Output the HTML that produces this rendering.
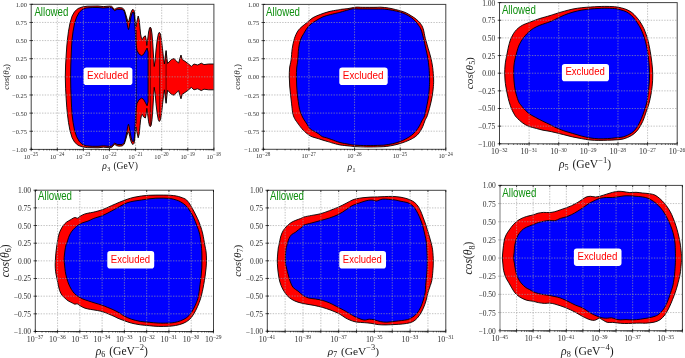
<!DOCTYPE html>
<html><head><meta charset="utf-8"><style>
html,body{margin:0;padding:0;background:#fff;width:685px;height:358px;overflow:hidden}
svg{display:block;transform:translateZ(0);will-change:transform}
.t{font-family:"Liberation Serif",serif;fill:#1a1a1a}
.s{font-family:"Liberation Sans",sans-serif}
.k{font-family:"Liberation Serif",serif;fill:#2e2e2e}
</style></head><body>
<svg width="685" height="358" viewBox="0 0 685 358">
<rect width="685" height="358" fill="#fff"/>

<g id="p1">
<clipPath id="cp1"><rect x="31.2" y="4.3" width="182.70" height="145.10"/></clipPath>
<g clip-path="url(#cp1)">
<path d="M65.3,76.9 L65.6,65.0 L66.2,55.0 L66.8,46.0 L67.5,39.0 L68.5,31.2 L70.0,23.1 L72.1,16.1 L74.6,11.6 L78.1,8.5 L82.1,7.0 L87.2,6.2 L98.0,6.0 L103.4,6.6 L108.0,6.2 L111.4,6.2 L113.0,7.6 L114.7,9.5 L116.4,8.2 L118.9,7.6 L122.2,7.9 L124.3,9.7 L125.6,13.9 L126.8,18.0 L127.8,21.2 L128.3,22.0 L128.9,21.0 L129.8,17.0 L130.8,13.0 L131.9,10.2 L133.0,9.3 L134.1,10.5 L134.8,15.6 L135.3,22.0 L135.9,27.0 L136.6,23.0 L137.3,19.8 L138.2,16.0 L139.2,19.8 L140.0,28.1 L140.6,34.0 L141.5,38.5 L142.3,39.5 L143.5,37.0 L145.4,35.8 L146.2,40.0 L146.8,45.5 L147.6,40.0 L148.6,32.0 L149.5,28.0 L150.3,27.1 L151.2,28.5 L152.0,34.0 L152.8,44.0 L153.5,56.0 L154.2,66.5 L155.2,60.0 L156.0,50.0 L157.2,40.0 L158.3,34.0 L159.3,32.3 L160.5,34.0 L161.5,40.0 L162.5,49.0 L163.5,58.0 L164.4,64.0 L165.2,57.0 L166.1,50.5 L166.8,57.0 L167.6,63.5 L169.0,62.0 L171.4,59.5 L174.0,58.6 L176.5,61.0 L178.6,63.2 L180.0,58.0 L181.0,55.0 L182.2,59.5 L185.0,61.3 L188.6,64.0 L191.3,66.4 L194.0,64.0 L197.7,65.0 L201.3,63.2 L204.0,64.6 L208.6,64.0 L214.5,64.0 L214.5,76.9 L214.5,89.8 L208.6,89.8 L204.0,89.2 L201.3,90.6 L197.7,88.8 L194.0,89.8 L191.3,87.4 L188.6,89.8 L185.0,92.5 L182.2,94.3 L181.0,98.8 L180.0,95.8 L178.6,90.6 L176.5,92.8 L174.0,95.2 L171.4,94.3 L169.0,91.8 L167.6,90.3 L166.8,96.8 L166.1,103.3 L165.2,96.8 L164.4,89.8 L163.5,95.8 L162.5,104.8 L161.5,113.8 L160.5,119.8 L159.3,121.5 L158.3,119.8 L157.2,113.8 L156.0,103.8 L155.2,93.8 L154.2,87.3 L153.5,97.8 L152.8,109.8 L152.0,119.8 L151.2,125.3 L150.3,126.7 L149.5,125.8 L148.6,121.8 L147.6,113.8 L146.8,108.3 L146.2,113.8 L145.4,118.0 L143.5,116.8 L142.3,114.3 L141.5,115.3 L140.6,119.8 L140.0,125.7 L139.2,134.0 L138.2,137.8 L137.3,134.0 L136.6,130.8 L135.9,126.8 L135.3,131.8 L134.8,138.2 L134.1,143.3 L133.0,144.5 L131.9,143.6 L130.8,140.8 L129.8,136.8 L128.9,132.8 L128.3,131.8 L127.8,132.6 L126.8,135.8 L125.6,139.9 L124.3,144.1 L122.2,145.9 L118.9,146.2 L116.4,145.6 L114.7,144.3 L113.0,146.2 L111.4,147.6 L108.0,147.6 L103.4,147.2 L98.0,147.8 L87.2,147.6 L82.1,146.8 L78.1,145.3 L74.6,142.2 L72.1,137.7 L70.0,130.7 L68.5,122.6 L67.5,114.8 L66.8,107.8 L66.2,98.8 L65.6,88.8 Z" fill="#ff0000" stroke="#000" stroke-width="0.9" stroke-linejoin="round"/>
<path d="M70.6,76.9 L70.8,65.0 L71.2,55.0 L71.6,46.0 L72.1,39.0 L73.1,31.2 L74.6,23.1 L76.6,17.1 L79.1,12.6 L82.1,9.5 L86.1,8.0 L92.2,7.5 L98.0,7.5 L103.4,8.0 L108.0,7.6 L111.4,7.6 L114.7,10.7 L117.2,9.3 L122.2,9.3 L124.3,11.4 L125.6,16.0 L126.8,22.0 L127.8,27.5 L128.5,29.6 L129.2,27.0 L130.2,21.0 L131.2,16.0 L132.2,13.0 L133.0,12.0 L133.8,13.0 L134.4,17.0 L134.8,22.0 L135.1,28.0 L135.6,38.0 L136.1,45.0 L137.0,50.5 L139.0,54.0 L141.5,55.7 L143.5,54.5 L145.5,51.0 L147.1,48.0 L148.1,52.0 L148.1,76.9 L148.1,101.8 L147.1,105.8 L145.5,102.8 L143.5,99.3 L141.5,98.1 L139.0,99.8 L137.0,103.3 L136.1,108.8 L135.6,115.8 L135.1,125.8 L134.8,131.8 L134.4,136.8 L133.8,140.8 L133.0,141.8 L132.2,140.8 L131.2,137.8 L130.2,132.8 L129.2,126.8 L128.5,124.2 L127.8,126.3 L126.8,131.8 L125.6,137.8 L124.3,142.4 L122.2,144.5 L117.2,144.5 L114.7,143.1 L111.4,146.2 L108.0,146.2 L103.4,145.8 L98.0,146.3 L92.2,146.3 L86.1,145.8 L82.1,144.3 L79.1,141.2 L76.6,136.7 L74.6,130.7 L73.1,122.6 L72.1,114.8 L71.6,107.8 L71.2,98.8 L70.8,88.8 Z" fill="#0000ff" stroke="#000" stroke-width="0.9" stroke-linejoin="round"/>
<path d="M150.3,28 V125.8 M159.6,36 V117.8 M166.1,51 V102.8 M136.4,30 V123.8" stroke="#000" stroke-width="0.7" fill="none" opacity="0.85"/>
<path d="M57.30,4.3 V149.4 M83.40,4.3 V149.4 M109.50,4.3 V149.4 M135.60,4.3 V149.4 M161.70,4.3 V149.4 M187.80,4.3 V149.4 M31.2,22.44 H213.9 M31.2,40.57 H213.9 M31.2,58.71 H213.9 M31.2,76.85 H213.9 M31.2,94.99 H213.9 M31.2,113.12 H213.9 M31.2,131.26 H213.9" stroke="#a0a0a0" stroke-width="0.8" stroke-dasharray="1.4,1.3" fill="none" opacity="0.8"/>
</g>
<rect x="31.2" y="4.3" width="182.70" height="145.10" fill="none" stroke="#444" stroke-width="1"/>
<path d="M31.20,147.6 V151.20000000000002 M39.06,149.4 V150.4 M43.65,149.4 V150.4 M46.91,149.4 V150.4 M49.44,149.4 V150.4 M51.51,149.4 V150.4 M53.26,149.4 V150.4 M54.77,149.4 V150.4 M56.11,149.4 V150.4 M57.30,147.6 V151.20000000000002 M65.16,149.4 V150.4 M69.75,149.4 V150.4 M73.01,149.4 V150.4 M75.54,149.4 V150.4 M77.61,149.4 V150.4 M79.36,149.4 V150.4 M80.87,149.4 V150.4 M82.21,149.4 V150.4 M83.40,147.6 V151.20000000000002 M91.26,149.4 V150.4 M95.85,149.4 V150.4 M99.11,149.4 V150.4 M101.64,149.4 V150.4 M103.71,149.4 V150.4 M105.46,149.4 V150.4 M106.97,149.4 V150.4 M108.31,149.4 V150.4 M109.50,147.6 V151.20000000000002 M117.36,149.4 V150.4 M121.95,149.4 V150.4 M125.21,149.4 V150.4 M127.74,149.4 V150.4 M129.81,149.4 V150.4 M131.56,149.4 V150.4 M133.07,149.4 V150.4 M134.41,149.4 V150.4 M135.60,147.6 V151.20000000000002 M143.46,149.4 V150.4 M148.05,149.4 V150.4 M151.31,149.4 V150.4 M153.84,149.4 V150.4 M155.91,149.4 V150.4 M157.66,149.4 V150.4 M159.17,149.4 V150.4 M160.51,149.4 V150.4 M161.70,147.6 V151.20000000000002 M169.56,149.4 V150.4 M174.15,149.4 V150.4 M177.41,149.4 V150.4 M179.94,149.4 V150.4 M182.01,149.4 V150.4 M183.76,149.4 V150.4 M185.27,149.4 V150.4 M186.61,149.4 V150.4 M187.80,147.6 V151.20000000000002 M195.66,149.4 V150.4 M200.25,149.4 V150.4 M203.51,149.4 V150.4 M206.04,149.4 V150.4 M208.11,149.4 V150.4 M209.86,149.4 V150.4 M211.37,149.4 V150.4 M212.71,149.4 V150.4 M213.90,147.6 V151.20000000000002 M29.4,4.30 H33.0 M29.4,22.44 H33.0 M29.4,40.57 H33.0 M29.4,58.71 H33.0 M29.4,76.85 H33.0 M29.4,94.99 H33.0 M29.4,113.12 H33.0 M29.4,131.26 H33.0 M29.4,149.40 H33.0" stroke="#000" stroke-width="0.7" fill="none"/>
<text class="k" x="27.00" y="6.91" font-size="6.4" text-anchor="end">1.00</text>
<text class="k" x="27.00" y="25.05" font-size="6.4" text-anchor="end">0.75</text>
<text class="k" x="27.00" y="43.19" font-size="6.4" text-anchor="end">0.50</text>
<text class="k" x="27.00" y="61.32" font-size="6.4" text-anchor="end">0.25</text>
<text class="k" x="27.00" y="79.46" font-size="6.4" text-anchor="end">0.00</text>
<text class="k" x="27.00" y="97.60" font-size="6.4" text-anchor="end"><tspan dy="0.5">−</tspan><tspan dy="-0.5">0.25</tspan></text>
<text class="k" x="27.00" y="115.74" font-size="6.4" text-anchor="end"><tspan dy="0.5">−</tspan><tspan dy="-0.5">0.50</tspan></text>
<text class="k" x="27.00" y="133.87" font-size="6.4" text-anchor="end"><tspan dy="0.5">−</tspan><tspan dy="-0.5">0.75</tspan></text>
<text class="k" x="27.00" y="152.01" font-size="6.4" text-anchor="end"><tspan dy="0.5">−</tspan><tspan dy="-0.5">1.00</tspan></text>
<text class="k" x="31.00" y="158.55" font-size="6.40" text-anchor="middle">10<tspan font-size="5.12" dy="-2.30">−25</tspan></text>
<text class="k" x="57.10" y="158.55" font-size="6.40" text-anchor="middle">10<tspan font-size="5.12" dy="-2.30">−24</tspan></text>
<text class="k" x="83.20" y="158.55" font-size="6.40" text-anchor="middle">10<tspan font-size="5.12" dy="-2.30">−23</tspan></text>
<text class="k" x="109.30" y="158.55" font-size="6.40" text-anchor="middle">10<tspan font-size="5.12" dy="-2.30">−22</tspan></text>
<text class="k" x="135.40" y="158.55" font-size="6.40" text-anchor="middle">10<tspan font-size="5.12" dy="-2.30">−21</tspan></text>
<text class="k" x="161.50" y="158.55" font-size="6.40" text-anchor="middle">10<tspan font-size="5.12" dy="-2.30">−20</tspan></text>
<text class="k" x="187.60" y="158.55" font-size="6.40" text-anchor="middle">10<tspan font-size="5.12" dy="-2.30">−19</tspan></text>
<text class="k" x="213.70" y="158.55" font-size="6.40" text-anchor="middle">10<tspan font-size="5.12" dy="-2.30">−18</tspan></text>
<text class="t" x="102.3" y="168.9" font-size="9.6"><tspan font-style="italic">ρ</tspan><tspan font-size="6.72" dy="1.92">3</tspan><tspan dy="-1.92" dx="0.77"> (GeV</tspan><tspan>)</tspan></text>
<text class="t" transform="translate(8.6,76.85) rotate(-90)" font-size="9.0" text-anchor="middle"><tspan font-style="italic">cos</tspan>(<tspan font-style="italic">θ</tspan><tspan font-size="6.30" dy="1.80">3</tspan><tspan dy="-1.80">)</tspan></text>
<rect x="83.6" y="67.4" width="48.80" height="17.70" rx="2.8" fill="#fff"/>
<text class="s" x="107.70" y="79.20" font-size="10.9" fill="#ff0000" text-anchor="middle" textLength="41.2" lengthAdjust="spacingAndGlyphs">Excluded</text>
<text class="s" x="34.4" y="15.50" font-size="12.1" fill="#0f8f0f" textLength="34" lengthAdjust="spacingAndGlyphs">Allowed</text>
</g>
<g id="p2">
<clipPath id="cp2"><rect x="263.3" y="4.4" width="182.50" height="144.90"/></clipPath>
<g clip-path="url(#cp2)">
<path d="M289.30,77.00 C289.28,74.00 289.30,70.83 289.60,68.00 C289.90,65.17 290.67,63.22 291.10,60.00 C291.53,56.78 291.65,52.27 292.20,48.70 C292.75,45.13 293.47,41.53 294.40,38.60 C295.33,35.67 296.53,33.10 297.80,31.10 C299.07,29.10 300.43,28.05 302.00,26.60 C303.57,25.15 305.35,23.90 307.20,22.40 C309.05,20.90 310.85,18.95 313.10,17.60 C315.35,16.25 318.05,15.30 320.70,14.30 C323.35,13.30 326.22,12.32 329.00,11.60 C331.78,10.88 335.47,10.37 337.40,10.00 C339.33,9.63 338.85,9.63 340.60,9.40 C342.35,9.17 345.72,8.92 347.90,8.60 C350.08,8.28 352.12,7.75 353.70,7.50 C355.28,7.25 355.93,7.13 357.40,7.10 C358.87,7.07 359.40,7.27 362.50,7.30 C365.60,7.33 372.92,7.32 376.00,7.30 C379.08,7.28 378.90,7.08 381.00,7.20 C383.10,7.32 386.22,7.62 388.60,8.00 C390.98,8.38 393.22,9.00 395.30,9.50 C397.38,10.00 399.28,10.43 401.10,11.00 C402.92,11.57 404.52,12.10 406.20,12.90 C407.88,13.70 409.53,14.75 411.20,15.80 C412.87,16.85 414.67,17.93 416.20,19.20 C417.73,20.47 419.23,21.80 420.40,23.40 C421.57,25.00 422.38,26.30 423.20,28.80 C424.02,31.30 424.48,35.17 425.30,38.40 C426.12,41.63 427.17,44.95 428.10,48.20 C429.03,51.45 430.13,54.65 430.90,57.90 C431.67,61.15 432.25,64.18 432.70,67.70 C433.15,71.22 433.48,75.88 433.60,79.00 C433.72,82.12 433.63,83.53 433.40,86.40 C433.17,89.27 432.75,92.95 432.20,96.20 C431.65,99.45 430.92,102.65 430.10,105.90 C429.28,109.15 428.15,113.27 427.30,115.70 C426.45,118.13 425.77,118.67 425.00,120.50 C424.23,122.33 423.63,124.68 422.70,126.70 C421.77,128.72 420.65,130.92 419.40,132.60 C418.15,134.28 416.88,135.55 415.20,136.80 C413.52,138.05 411.53,139.07 409.30,140.10 C407.07,141.13 404.32,142.17 401.80,143.00 C399.28,143.83 396.72,144.53 394.20,145.10 C391.68,145.67 389.07,146.12 386.70,146.40 C384.33,146.68 383.33,146.70 380.00,146.80 C376.67,146.90 370.95,147.03 366.70,147.00 C362.45,146.97 357.42,146.77 354.50,146.60 C351.58,146.43 351.63,146.28 349.20,146.00 C346.77,145.72 342.82,145.43 339.90,144.90 C336.98,144.37 333.70,143.35 331.70,142.80 C329.70,142.25 329.35,142.03 327.90,141.60 C326.45,141.17 324.52,140.67 323.00,140.20 C321.48,139.73 320.30,139.27 318.80,138.80 C317.30,138.33 315.38,137.85 314.00,137.40 C312.62,136.95 311.67,136.73 310.50,136.10 C309.33,135.47 308.17,134.53 307.00,133.60 C305.83,132.67 304.67,131.72 303.50,130.50 C302.33,129.28 300.87,127.38 300.00,126.30 C299.13,125.22 299.20,125.30 298.30,124.00 C297.40,122.70 295.53,120.35 294.60,118.50 C293.67,116.65 293.20,115.33 292.70,112.90 C292.20,110.47 291.95,106.88 291.60,103.90 C291.25,100.92 290.92,97.98 290.60,95.00 C290.28,92.02 289.92,89.00 289.70,86.00 C289.48,83.00 289.32,80.00 289.30,77.00 Z" fill="#ff0000" stroke="#000" stroke-width="0.9" stroke-linejoin="round"/>
<path d="M296.40,77.00 C296.40,74.00 296.47,70.83 296.70,68.00 C296.93,65.17 297.48,63.22 297.80,60.00 C298.12,56.78 298.18,51.98 298.60,48.70 C299.02,45.42 299.45,42.82 300.30,40.30 C301.15,37.78 302.30,35.98 303.70,33.60 C305.10,31.22 306.75,28.10 308.70,26.00 C310.65,23.90 313.02,22.53 315.40,21.00 C317.78,19.47 320.48,17.87 323.00,16.80 C325.52,15.73 328.10,15.25 330.50,14.60 C332.90,13.95 335.65,13.33 337.40,12.90 C339.15,12.47 339.25,12.48 341.00,12.00 C342.75,11.52 346.02,10.52 347.90,10.00 C349.78,9.48 350.48,9.08 352.30,8.90 C354.12,8.72 354.85,8.88 358.80,8.90 C362.75,8.92 371.73,8.97 376.00,9.00 C380.27,9.03 381.60,8.87 384.40,9.10 C387.20,9.33 390.28,9.93 392.80,10.40 C395.32,10.87 397.42,11.28 399.50,11.90 C401.58,12.52 403.35,13.17 405.30,14.10 C407.25,15.03 409.52,16.30 411.20,17.50 C412.88,18.70 414.15,19.97 415.40,21.30 C416.65,22.63 417.73,24.05 418.70,25.50 C419.67,26.95 420.40,27.85 421.20,30.00 C422.00,32.15 422.75,35.37 423.50,38.40 C424.25,41.43 424.98,44.95 425.70,48.20 C426.42,51.45 427.25,54.65 427.80,57.90 C428.35,61.15 428.70,64.18 429.00,67.70 C429.30,71.22 429.53,75.88 429.60,79.00 C429.67,82.12 429.57,83.53 429.40,86.40 C429.23,89.27 429.03,92.95 428.60,96.20 C428.17,99.45 427.47,102.65 426.80,105.90 C426.13,109.15 425.42,113.22 424.60,115.70 C423.78,118.18 422.77,119.10 421.90,120.80 C421.03,122.50 420.38,124.22 419.40,125.90 C418.42,127.58 417.27,129.37 416.00,130.90 C414.73,132.43 413.47,133.78 411.80,135.10 C410.13,136.42 408.08,137.68 406.00,138.80 C403.92,139.92 401.53,140.98 399.30,141.80 C397.07,142.62 394.98,143.17 392.60,143.70 C390.22,144.23 387.10,144.73 385.00,145.00 C382.90,145.27 383.05,145.20 380.00,145.30 C376.95,145.40 370.95,145.63 366.70,145.60 C362.45,145.57 357.42,145.32 354.50,145.10 C351.58,144.88 351.63,144.73 349.20,144.30 C346.77,143.87 342.82,143.28 339.90,142.50 C336.98,141.72 333.93,140.38 331.70,139.60 C329.47,138.82 328.07,138.28 326.50,137.80 C324.93,137.32 323.58,137.33 322.30,136.70 C321.02,136.07 319.95,134.80 318.80,134.00 C317.65,133.20 316.55,132.55 315.40,131.90 C314.25,131.25 312.95,130.80 311.90,130.10 C310.85,129.40 309.92,128.68 309.10,127.70 C308.28,126.72 307.82,125.48 307.00,124.20 C306.18,122.92 305.05,121.42 304.20,120.00 C303.35,118.58 302.67,117.45 301.90,115.70 C301.13,113.95 300.20,111.83 299.60,109.50 C299.00,107.17 298.67,104.12 298.30,101.70 C297.93,99.28 297.67,97.62 297.40,95.00 C297.13,92.38 296.87,89.00 296.70,86.00 C296.53,83.00 296.40,80.00 296.40,77.00 Z" fill="#0000ff" stroke="#000" stroke-width="0.9" stroke-linejoin="round"/>
<path d="M308.93,4.4 V149.3 M354.55,4.4 V149.3 M400.18,4.4 V149.3 M263.3,22.51 H445.8 M263.3,40.62 H445.8 M263.3,58.74 H445.8 M263.3,76.85 H445.8 M263.3,94.96 H445.8 M263.3,113.08 H445.8 M263.3,131.19 H445.8" stroke="#a0a0a0" stroke-width="0.8" stroke-dasharray="1.4,1.3" fill="none" opacity="0.8"/>
</g>
<rect x="263.3" y="4.4" width="182.50" height="144.90" fill="none" stroke="#444" stroke-width="1"/>
<path d="M263.30,147.5 V151.10000000000002 M277.03,149.3 V150.3 M285.07,149.3 V150.3 M290.77,149.3 V150.3 M295.19,149.3 V150.3 M298.80,149.3 V150.3 M301.86,149.3 V150.3 M304.50,149.3 V150.3 M306.84,149.3 V150.3 M308.93,147.5 V151.10000000000002 M322.66,149.3 V150.3 M330.69,149.3 V150.3 M336.39,149.3 V150.3 M340.82,149.3 V150.3 M344.43,149.3 V150.3 M347.48,149.3 V150.3 M350.13,149.3 V150.3 M352.46,149.3 V150.3 M354.55,147.5 V151.10000000000002 M368.28,149.3 V150.3 M376.32,149.3 V150.3 M382.02,149.3 V150.3 M386.44,149.3 V150.3 M390.05,149.3 V150.3 M393.11,149.3 V150.3 M395.75,149.3 V150.3 M398.09,149.3 V150.3 M400.18,147.5 V151.10000000000002 M413.91,149.3 V150.3 M421.94,149.3 V150.3 M427.64,149.3 V150.3 M432.07,149.3 V150.3 M435.68,149.3 V150.3 M438.73,149.3 V150.3 M441.38,149.3 V150.3 M443.71,149.3 V150.3 M445.80,147.5 V151.10000000000002 M261.5,4.40 H265.1 M261.5,22.51 H265.1 M261.5,40.62 H265.1 M261.5,58.74 H265.1 M261.5,76.85 H265.1 M261.5,94.96 H265.1 M261.5,113.08 H265.1 M261.5,131.19 H265.1 M261.5,149.30 H265.1" stroke="#000" stroke-width="0.7" fill="none"/>
<text class="k" x="259.10" y="7.01" font-size="6.4" text-anchor="end">1.00</text>
<text class="k" x="259.10" y="25.12" font-size="6.4" text-anchor="end">0.75</text>
<text class="k" x="259.10" y="43.24" font-size="6.4" text-anchor="end">0.50</text>
<text class="k" x="259.10" y="61.35" font-size="6.4" text-anchor="end">0.25</text>
<text class="k" x="259.10" y="79.46" font-size="6.4" text-anchor="end">0.00</text>
<text class="k" x="259.10" y="97.57" font-size="6.4" text-anchor="end"><tspan dy="0.5">−</tspan><tspan dy="-0.5">0.25</tspan></text>
<text class="k" x="259.10" y="115.69" font-size="6.4" text-anchor="end"><tspan dy="0.5">−</tspan><tspan dy="-0.5">0.50</tspan></text>
<text class="k" x="259.10" y="133.80" font-size="6.4" text-anchor="end"><tspan dy="0.5">−</tspan><tspan dy="-0.5">0.75</tspan></text>
<text class="k" x="259.10" y="151.91" font-size="6.4" text-anchor="end"><tspan dy="0.5">−</tspan><tspan dy="-0.5">1.00</tspan></text>
<text class="k" x="263.10" y="158.45" font-size="6.40" text-anchor="middle">10<tspan font-size="5.12" dy="-2.30">−28</tspan></text>
<text class="k" x="308.73" y="158.45" font-size="6.40" text-anchor="middle">10<tspan font-size="5.12" dy="-2.30">−27</tspan></text>
<text class="k" x="354.35" y="158.45" font-size="6.40" text-anchor="middle">10<tspan font-size="5.12" dy="-2.30">−26</tspan></text>
<text class="k" x="399.98" y="158.45" font-size="6.40" text-anchor="middle">10<tspan font-size="5.12" dy="-2.30">−25</tspan></text>
<text class="k" x="445.60" y="158.45" font-size="6.40" text-anchor="middle">10<tspan font-size="5.12" dy="-2.30">−24</tspan></text>
<text class="t" x="347.6" y="170.0" font-size="9.6"><tspan font-style="italic">ρ</tspan><tspan font-size="6.72" dy="1.92">1</tspan></text>
<text class="t" transform="translate(240.2,76.85) rotate(-90)" font-size="9.0" text-anchor="middle"><tspan font-style="italic">cos</tspan>(<tspan font-style="italic">θ</tspan><tspan font-size="6.30" dy="1.80">1</tspan><tspan dy="-1.80">)</tspan></text>
<rect x="339.3" y="67.6" width="48.40" height="17.50" rx="2.8" fill="#fff"/>
<text class="s" x="363.20" y="79.20" font-size="10.9" fill="#ff0000" text-anchor="middle" textLength="40.8" lengthAdjust="spacingAndGlyphs">Excluded</text>
<text class="s" x="266.0" y="15.60" font-size="12.1" fill="#0f8f0f" textLength="34" lengthAdjust="spacingAndGlyphs">Allowed</text>
</g>
<g id="p3">
<clipPath id="cp3"><rect x="499.5" y="2.6" width="177.70" height="141.20"/></clipPath>
<g clip-path="url(#cp3)">
<path d="M504.70,73.00 C504.70,70.67 504.82,68.17 505.00,66.00 C505.18,63.83 505.50,61.83 505.80,60.00 C506.10,58.17 506.37,57.17 506.80,55.00 C507.23,52.83 507.98,48.92 508.40,47.00 C508.82,45.08 508.87,44.95 509.30,43.50 C509.73,42.05 510.32,39.93 511.00,38.30 C511.68,36.67 512.48,35.13 513.40,33.70 C514.32,32.27 515.37,30.88 516.50,29.70 C517.63,28.52 518.97,27.47 520.20,26.60 C521.43,25.73 522.68,25.08 523.90,24.50 C525.12,23.92 525.92,23.72 527.50,23.10 C529.08,22.48 531.45,21.53 533.40,20.80 C535.35,20.07 537.25,19.33 539.20,18.70 C541.15,18.07 543.30,17.52 545.10,17.00 C546.90,16.48 548.27,16.13 550.00,15.60 C551.73,15.07 553.12,14.53 555.50,13.80 C557.88,13.07 561.38,12.00 564.30,11.20 C567.22,10.40 570.08,9.58 573.00,9.00 C575.92,8.42 578.88,8.03 581.80,7.70 C584.72,7.37 587.80,7.18 590.50,7.00 C593.20,6.82 595.62,6.70 598.00,6.60 C600.38,6.50 602.05,6.38 604.80,6.40 C607.55,6.42 611.73,6.45 614.50,6.70 C617.27,6.95 619.28,7.38 621.40,7.90 C623.52,8.42 625.42,9.00 627.20,9.80 C628.98,10.60 630.63,11.57 632.10,12.70 C633.57,13.83 634.70,15.13 636.00,16.60 C637.30,18.07 638.60,19.53 639.90,21.50 C641.20,23.47 642.73,26.15 643.80,28.40 C644.87,30.65 645.55,32.78 646.30,35.00 C647.05,37.22 647.53,38.30 648.30,41.70 C649.07,45.10 650.20,50.83 650.90,55.40 C651.60,59.97 652.22,64.87 652.50,69.10 C652.78,73.33 652.80,76.88 652.60,80.80 C652.40,84.72 651.90,88.83 651.30,92.60 C650.70,96.37 649.85,100.20 649.00,103.40 C648.15,106.60 647.25,108.78 646.20,111.80 C645.15,114.82 644.10,118.48 642.70,121.50 C641.30,124.52 639.65,127.57 637.80,129.90 C635.95,132.23 634.03,133.98 631.60,135.50 C629.17,137.02 625.97,138.27 623.20,139.00 C620.43,139.73 617.62,139.70 615.00,139.90 C612.38,140.10 610.20,140.12 607.50,140.20 C604.80,140.28 601.72,140.43 598.80,140.40 C595.88,140.37 592.92,140.30 590.00,140.00 C587.08,139.70 584.22,139.12 581.30,138.60 C578.38,138.08 575.42,137.55 572.50,136.90 C569.58,136.25 566.72,135.43 563.80,134.70 C560.88,133.97 557.47,133.08 555.00,132.50 C552.53,131.92 551.00,131.58 549.00,131.20 C547.00,130.82 545.08,130.65 543.00,130.20 C540.92,129.75 538.88,129.15 536.50,128.50 C534.12,127.85 531.02,127.23 528.70,126.30 C526.38,125.37 524.65,124.40 522.60,122.90 C520.55,121.40 517.90,118.95 516.40,117.30 C514.90,115.65 514.43,114.48 513.60,113.00 C512.77,111.52 512.15,110.28 511.40,108.40 C510.65,106.52 509.75,103.93 509.10,101.70 C508.45,99.47 508.03,97.45 507.50,95.00 C506.97,92.55 506.32,89.50 505.90,87.00 C505.48,84.50 505.20,82.33 505.00,80.00 C504.80,77.67 504.70,75.33 504.70,73.00 Z" fill="#ff0000" stroke="#000" stroke-width="0.9" stroke-linejoin="round"/>
<path d="M513.70,73.00 C513.68,70.50 513.72,68.17 513.90,66.00 C514.08,63.83 514.43,61.83 514.80,60.00 C515.17,58.17 515.60,56.92 516.10,55.00 C516.60,53.08 517.22,50.33 517.80,48.50 C518.38,46.67 518.90,45.45 519.60,44.00 C520.30,42.55 521.08,41.17 522.00,39.80 C522.92,38.43 523.98,37.10 525.10,35.80 C526.22,34.50 527.32,33.23 528.70,32.00 C530.08,30.77 531.65,29.48 533.40,28.40 C535.15,27.32 537.25,26.33 539.20,25.50 C541.15,24.67 543.30,24.03 545.10,23.40 C546.90,22.77 548.27,22.40 550.00,21.70 C551.73,21.00 553.12,20.30 555.50,19.20 C557.88,18.10 561.38,16.28 564.30,15.10 C567.22,13.92 570.08,12.93 573.00,12.10 C575.92,11.27 578.88,10.62 581.80,10.10 C584.72,9.58 587.80,9.27 590.50,9.00 C593.20,8.73 595.62,8.63 598.00,8.50 C600.38,8.37 602.05,8.18 604.80,8.20 C607.55,8.22 611.90,8.33 614.50,8.60 C617.10,8.87 618.43,9.27 620.40,9.80 C622.37,10.33 624.52,10.90 626.30,11.80 C628.08,12.70 629.65,13.90 631.10,15.20 C632.55,16.50 633.70,17.90 635.00,19.60 C636.30,21.30 637.75,23.45 638.90,25.40 C640.05,27.35 640.80,28.58 641.90,31.30 C643.00,34.02 644.45,37.68 645.50,41.70 C646.55,45.72 647.55,50.83 648.20,55.40 C648.85,59.97 649.20,64.87 649.40,69.10 C649.60,73.33 649.58,76.88 649.40,80.80 C649.22,84.72 648.72,89.07 648.30,92.60 C647.88,96.13 647.55,99.03 646.90,102.00 C646.25,104.97 645.33,107.62 644.40,110.40 C643.47,113.18 642.52,115.92 641.30,118.70 C640.08,121.48 638.72,124.72 637.10,127.10 C635.48,129.48 633.92,131.37 631.60,133.00 C629.28,134.63 625.97,136.08 623.20,136.90 C620.43,137.72 617.62,137.62 615.00,137.90 C612.38,138.18 610.20,138.45 607.50,138.60 C604.80,138.75 601.72,138.92 598.80,138.80 C595.88,138.68 592.92,138.37 590.00,137.90 C587.08,137.43 584.22,136.75 581.30,136.00 C578.38,135.25 575.42,134.27 572.50,133.40 C569.58,132.53 566.72,131.83 563.80,130.80 C560.88,129.77 557.30,128.23 555.00,127.20 C552.70,126.17 552.00,125.58 550.00,124.60 C548.00,123.62 545.43,122.52 543.00,121.30 C540.57,120.08 537.78,118.62 535.40,117.30 C533.02,115.98 530.65,114.88 528.70,113.40 C526.75,111.92 525.02,109.80 523.70,108.40 C522.38,107.00 521.65,106.12 520.80,105.00 C519.95,103.88 519.33,103.37 518.60,101.70 C517.87,100.03 517.00,97.12 516.40,95.00 C515.80,92.88 515.40,91.33 515.00,89.00 C514.60,86.67 514.22,83.67 514.00,81.00 C513.78,78.33 513.72,75.50 513.70,73.00 Z" fill="#0000ff" stroke="#000" stroke-width="0.9" stroke-linejoin="round"/>
<path d="M529.12,2.6 V143.8 M558.73,2.6 V143.8 M588.35,2.6 V143.8 M617.97,2.6 V143.8 M647.58,2.6 V143.8 M499.5,20.25 H677.2 M499.5,37.90 H677.2 M499.5,55.55 H677.2 M499.5,73.20 H677.2 M499.5,90.85 H677.2 M499.5,108.50 H677.2 M499.5,126.15 H677.2" stroke="#a0a0a0" stroke-width="0.8" stroke-dasharray="1.4,1.3" fill="none" opacity="0.8"/>
</g>
<rect x="499.5" y="2.6" width="177.70" height="141.20" fill="none" stroke="#444" stroke-width="1"/>
<path d="M499.50,142.0 V145.60000000000002 M508.42,143.8 V144.8 M513.63,143.8 V144.8 M517.33,143.8 V144.8 M520.20,143.8 V144.8 M522.55,143.8 V144.8 M524.53,143.8 V144.8 M526.25,143.8 V144.8 M527.76,143.8 V144.8 M529.12,142.0 V145.60000000000002 M538.03,143.8 V144.8 M543.25,143.8 V144.8 M546.95,143.8 V144.8 M549.82,143.8 V144.8 M552.16,143.8 V144.8 M554.15,143.8 V144.8 M555.86,143.8 V144.8 M557.38,143.8 V144.8 M558.73,142.0 V145.60000000000002 M567.65,143.8 V144.8 M572.86,143.8 V144.8 M576.56,143.8 V144.8 M579.43,143.8 V144.8 M581.78,143.8 V144.8 M583.76,143.8 V144.8 M585.48,143.8 V144.8 M586.99,143.8 V144.8 M588.35,142.0 V145.60000000000002 M597.27,143.8 V144.8 M602.48,143.8 V144.8 M606.18,143.8 V144.8 M609.05,143.8 V144.8 M611.40,143.8 V144.8 M613.38,143.8 V144.8 M615.10,143.8 V144.8 M616.61,143.8 V144.8 M617.97,142.0 V145.60000000000002 M626.88,143.8 V144.8 M632.10,143.8 V144.8 M635.80,143.8 V144.8 M638.67,143.8 V144.8 M641.01,143.8 V144.8 M643.00,143.8 V144.8 M644.71,143.8 V144.8 M646.23,143.8 V144.8 M647.58,142.0 V145.60000000000002 M656.50,143.8 V144.8 M661.71,143.8 V144.8 M665.41,143.8 V144.8 M668.28,143.8 V144.8 M670.63,143.8 V144.8 M672.61,143.8 V144.8 M674.33,143.8 V144.8 M675.84,143.8 V144.8 M677.20,142.0 V145.60000000000002 M497.7,2.60 H501.3 M497.7,20.25 H501.3 M497.7,37.90 H501.3 M497.7,55.55 H501.3 M497.7,73.20 H501.3 M497.7,90.85 H501.3 M497.7,108.50 H501.3 M497.7,126.15 H501.3 M497.7,143.80 H501.3" stroke="#000" stroke-width="0.7" fill="none"/>
<text class="k" x="495.30" y="5.58" font-size="7.5" text-anchor="end">1.00</text>
<text class="k" x="495.30" y="23.23" font-size="7.5" text-anchor="end">0.75</text>
<text class="k" x="495.30" y="40.88" font-size="7.5" text-anchor="end">0.50</text>
<text class="k" x="495.30" y="58.53" font-size="7.5" text-anchor="end">0.25</text>
<text class="k" x="495.30" y="76.17" font-size="7.5" text-anchor="end">0.00</text>
<text class="k" x="495.30" y="93.83" font-size="7.5" text-anchor="end"><tspan dy="0.5">−</tspan><tspan dy="-0.5">0.25</tspan></text>
<text class="k" x="495.30" y="111.47" font-size="7.5" text-anchor="end"><tspan dy="0.5">−</tspan><tspan dy="-0.5">0.50</tspan></text>
<text class="k" x="495.30" y="129.12" font-size="7.5" text-anchor="end"><tspan dy="0.5">−</tspan><tspan dy="-0.5">0.75</tspan></text>
<text class="k" x="495.30" y="146.78" font-size="7.5" text-anchor="end"><tspan dy="0.5">−</tspan><tspan dy="-0.5">1.00</tspan></text>
<text class="k" x="499.30" y="154.40" font-size="7.95" text-anchor="middle">10<tspan font-size="5.55" dy="-2.70">−32</tspan></text>
<text class="k" x="528.92" y="154.40" font-size="7.95" text-anchor="middle">10<tspan font-size="5.55" dy="-2.70">−31</tspan></text>
<text class="k" x="558.53" y="154.40" font-size="7.95" text-anchor="middle">10<tspan font-size="5.55" dy="-2.70">−30</tspan></text>
<text class="k" x="588.15" y="154.40" font-size="7.95" text-anchor="middle">10<tspan font-size="5.55" dy="-2.70">−29</tspan></text>
<text class="k" x="617.77" y="154.40" font-size="7.95" text-anchor="middle">10<tspan font-size="5.55" dy="-2.70">−28</tspan></text>
<text class="k" x="647.38" y="154.40" font-size="7.95" text-anchor="middle">10<tspan font-size="5.55" dy="-2.70">−27</tspan></text>
<text class="k" x="677.00" y="154.40" font-size="7.95" text-anchor="middle">10<tspan font-size="5.55" dy="-2.70">−26</tspan></text>
<text class="t" x="559.0" y="167.5" font-size="11.6"><tspan font-style="italic">ρ</tspan><tspan font-size="8.12" dy="2.32">5</tspan><tspan dy="-2.32" dx="0.93"> (GeV</tspan><tspan font-size="8.58" dy="-4.41">−1</tspan><tspan dy="4.41">)</tspan></text>
<text class="t" transform="translate(472.5,73.20) rotate(-90)" font-size="11.3" text-anchor="middle"><tspan font-style="italic">cos</tspan>(<tspan font-style="italic">θ</tspan><tspan font-size="7.91" dy="2.26">5</tspan><tspan dy="-2.26">)</tspan></text>
<rect x="561.9" y="64.1" width="47.10" height="17.10" rx="2.8" fill="#fff"/>
<text class="s" x="585.15" y="75.30" font-size="10.9" fill="#ff0000" text-anchor="middle" textLength="39.5" lengthAdjust="spacingAndGlyphs">Excluded</text>
<text class="s" x="501.9" y="13.50" font-size="12.1" fill="#0f8f0f" textLength="34" lengthAdjust="spacingAndGlyphs">Allowed</text>
</g>
<g id="p4">
<clipPath id="cp4"><rect x="35.3" y="190.2" width="178.20" height="141.30"/></clipPath>
<g clip-path="url(#cp4)">
<path d="M55.40,260.00 C55.50,258.15 55.62,255.90 55.80,253.90 C55.98,251.90 56.22,250.12 56.50,248.00 C56.78,245.88 57.08,243.52 57.50,241.20 C57.92,238.88 58.40,236.12 59.00,234.10 C59.60,232.08 60.33,230.60 61.10,229.10 C61.87,227.60 62.68,226.27 63.60,225.10 C64.52,223.93 65.52,222.95 66.60,222.10 C67.68,221.25 69.02,220.65 70.10,220.00 C71.18,219.35 72.27,218.62 73.10,218.20 C73.93,217.78 74.33,217.50 75.10,217.50 C75.87,217.50 76.85,218.42 77.70,218.20 C78.55,217.98 79.12,216.87 80.20,216.20 C81.28,215.53 82.90,214.70 84.20,214.20 C85.50,213.70 86.40,213.55 88.00,213.20 C89.60,212.85 91.37,212.70 93.80,212.10 C96.23,211.50 99.67,210.67 102.60,209.60 C105.53,208.53 108.62,206.92 111.40,205.70 C114.18,204.48 116.68,203.37 119.30,202.30 C121.92,201.23 124.65,200.13 127.10,199.30 C129.55,198.47 131.63,197.85 134.00,197.30 C136.37,196.75 138.87,196.33 141.30,196.00 C143.73,195.67 146.17,195.45 148.60,195.30 C151.03,195.15 153.47,195.13 155.90,195.10 C158.33,195.07 160.77,195.07 163.20,195.10 C165.63,195.13 168.32,195.15 170.50,195.30 C172.68,195.45 174.55,195.67 176.30,196.00 C178.05,196.33 179.30,196.65 181.00,197.30 C182.70,197.95 184.88,198.53 186.50,199.90 C188.12,201.27 189.42,203.52 190.70,205.50 C191.98,207.48 193.05,209.60 194.20,211.80 C195.35,214.00 196.57,216.38 197.60,218.70 C198.63,221.02 199.53,223.13 200.40,225.70 C201.27,228.27 202.07,230.88 202.80,234.10 C203.53,237.32 204.25,242.02 204.80,245.00 C205.35,247.98 205.82,249.50 206.10,252.00 C206.38,254.50 206.50,257.35 206.50,260.00 C206.50,262.65 206.33,265.18 206.10,267.90 C205.87,270.62 205.50,273.50 205.10,276.30 C204.70,279.10 204.15,282.20 203.70,284.70 C203.25,287.20 202.93,288.95 202.40,291.30 C201.87,293.65 201.30,296.28 200.50,298.80 C199.70,301.32 198.72,303.88 197.60,306.40 C196.48,308.92 195.17,311.70 193.80,313.90 C192.43,316.10 191.18,318.02 189.40,319.60 C187.62,321.18 185.42,322.42 183.10,323.40 C180.78,324.38 178.02,325.02 175.50,325.50 C172.98,325.98 170.88,326.15 168.00,326.30 C165.12,326.45 161.32,326.50 158.20,326.40 C155.08,326.30 152.28,325.97 149.30,325.70 C146.32,325.43 143.28,325.23 140.30,324.80 C137.32,324.37 134.07,323.78 131.40,323.10 C128.73,322.42 126.53,321.50 124.30,320.70 C122.07,319.90 119.72,319.03 118.00,318.30 C116.28,317.57 115.58,317.02 114.00,316.30 C112.42,315.58 110.35,314.75 108.50,314.00 C106.65,313.25 104.77,312.38 102.90,311.80 C101.03,311.22 99.35,310.90 97.30,310.50 C95.25,310.10 92.65,309.78 90.60,309.40 C88.55,309.02 86.68,308.77 85.00,308.20 C83.32,307.63 81.80,306.73 80.50,306.00 C79.20,305.27 78.13,304.10 77.20,303.80 C76.27,303.50 75.70,304.33 74.90,304.20 C74.10,304.07 73.53,303.57 72.40,303.00 C71.27,302.43 69.37,301.63 68.10,300.80 C66.83,299.97 65.82,298.93 64.80,298.00 C63.78,297.07 62.85,296.42 62.00,295.20 C61.15,293.98 60.32,292.38 59.70,290.70 C59.08,289.02 58.77,287.15 58.30,285.10 C57.83,283.05 57.35,280.63 56.90,278.40 C56.45,276.17 55.88,273.93 55.60,271.70 C55.32,269.47 55.23,266.95 55.20,265.00 C55.17,263.05 55.30,261.85 55.40,260.00 Z" fill="#ff0000" stroke="#000" stroke-width="0.9" stroke-linejoin="round"/>
<path d="M64.10,260.00 C64.07,258.33 64.25,256.67 64.40,255.00 C64.55,253.33 64.73,251.67 65.00,250.00 C65.27,248.33 65.65,246.30 66.00,245.00 C66.35,243.70 66.58,243.68 67.10,242.20 C67.62,240.72 68.35,237.87 69.10,236.10 C69.85,234.33 70.68,232.93 71.60,231.60 C72.52,230.27 73.50,229.18 74.60,228.10 C75.70,227.02 76.93,225.97 78.20,225.10 C79.47,224.23 80.57,223.57 82.20,222.90 C83.83,222.23 86.07,221.85 88.00,221.10 C89.93,220.35 91.37,219.33 93.80,218.40 C96.23,217.47 99.67,216.72 102.60,215.50 C105.53,214.28 108.62,212.57 111.40,211.10 C114.18,209.63 116.68,208.08 119.30,206.70 C121.92,205.32 124.65,203.73 127.10,202.80 C129.55,201.87 131.63,201.57 134.00,201.10 C136.37,200.63 138.87,200.37 141.30,200.00 C143.73,199.63 146.17,199.20 148.60,198.90 C151.03,198.60 153.47,198.33 155.90,198.20 C158.33,198.07 160.77,198.03 163.20,198.10 C165.63,198.17 168.32,198.28 170.50,198.60 C172.68,198.92 174.60,199.45 176.30,200.00 C178.00,200.55 179.12,200.98 180.70,201.90 C182.28,202.82 184.25,203.97 185.80,205.50 C187.35,207.03 188.72,209.13 190.00,211.10 C191.28,213.07 192.35,214.87 193.50,217.30 C194.65,219.73 195.87,222.90 196.90,225.70 C197.93,228.50 198.98,230.88 199.70,234.10 C200.42,237.32 200.85,242.02 201.20,245.00 C201.55,247.98 201.68,249.50 201.80,252.00 C201.92,254.50 201.90,257.35 201.90,260.00 C201.90,262.65 201.93,265.18 201.80,267.90 C201.67,270.62 201.40,273.50 201.10,276.30 C200.80,279.10 200.32,282.20 200.00,284.70 C199.68,287.20 199.57,288.95 199.20,291.30 C198.83,293.65 198.50,296.38 197.80,298.80 C197.10,301.22 196.08,303.48 195.00,305.80 C193.92,308.12 192.65,310.75 191.30,312.70 C189.95,314.65 188.68,316.15 186.90,317.50 C185.12,318.85 182.70,319.97 180.60,320.80 C178.50,321.63 176.40,322.12 174.30,322.50 C172.20,322.88 170.68,323.00 168.00,323.10 C165.32,323.20 161.32,323.23 158.20,323.10 C155.08,322.97 152.28,322.58 149.30,322.30 C146.32,322.02 143.28,321.92 140.30,321.40 C137.32,320.88 134.07,320.08 131.40,319.20 C128.73,318.32 126.37,317.18 124.30,316.10 C122.23,315.02 120.90,313.78 119.00,312.70 C117.10,311.62 114.85,310.50 112.90,309.60 C110.95,308.70 109.15,308.05 107.30,307.30 C105.45,306.55 103.83,305.80 101.80,305.10 C99.77,304.40 97.35,303.80 95.10,303.10 C92.85,302.40 90.35,301.58 88.30,300.90 C86.25,300.22 84.48,299.73 82.80,299.00 C81.12,298.27 79.57,297.38 78.20,296.50 C76.83,295.62 75.72,294.85 74.60,293.70 C73.48,292.55 72.48,291.22 71.50,289.60 C70.52,287.98 69.48,285.87 68.70,284.00 C67.92,282.13 67.37,280.45 66.80,278.40 C66.23,276.35 65.67,273.93 65.30,271.70 C64.93,269.47 64.80,266.95 64.60,265.00 C64.40,263.05 64.13,261.67 64.10,260.00 Z" fill="#0000ff" stroke="#000" stroke-width="0.9" stroke-linejoin="round"/>
<path d="M57.57,190.2 V331.5 M79.85,190.2 V331.5 M102.12,190.2 V331.5 M124.40,190.2 V331.5 M146.68,190.2 V331.5 M168.95,190.2 V331.5 M191.22,190.2 V331.5 M35.3,207.86 H213.5 M35.3,225.52 H213.5 M35.3,243.19 H213.5 M35.3,260.85 H213.5 M35.3,278.51 H213.5 M35.3,296.18 H213.5 M35.3,313.84 H213.5" stroke="#a0a0a0" stroke-width="0.8" stroke-dasharray="1.4,1.3" fill="none" opacity="0.8"/>
</g>
<rect x="35.3" y="190.2" width="178.20" height="141.30" fill="none" stroke="#444" stroke-width="1"/>
<path d="M35.30,329.7 V333.3 M35.30,190.2 V192.0 M42.01,331.5 V332.5 M45.93,331.5 V332.5 M48.71,331.5 V332.5 M50.87,331.5 V332.5 M52.63,331.5 V332.5 M54.12,331.5 V332.5 M55.42,331.5 V332.5 M56.56,331.5 V332.5 M57.57,329.7 V333.3 M57.57,190.2 V192.0 M64.28,331.5 V332.5 M68.20,331.5 V332.5 M70.99,331.5 V332.5 M73.14,331.5 V332.5 M74.91,331.5 V332.5 M76.40,331.5 V332.5 M77.69,331.5 V332.5 M78.83,331.5 V332.5 M79.85,329.7 V333.3 M79.85,190.2 V192.0 M86.56,331.5 V332.5 M90.48,331.5 V332.5 M93.26,331.5 V332.5 M95.42,331.5 V332.5 M97.18,331.5 V332.5 M98.67,331.5 V332.5 M99.97,331.5 V332.5 M101.11,331.5 V332.5 M102.12,329.7 V333.3 M102.12,190.2 V192.0 M108.83,331.5 V332.5 M112.75,331.5 V332.5 M115.54,331.5 V332.5 M117.69,331.5 V332.5 M119.46,331.5 V332.5 M120.95,331.5 V332.5 M122.24,331.5 V332.5 M123.38,331.5 V332.5 M124.40,329.7 V333.3 M124.40,190.2 V192.0 M131.11,331.5 V332.5 M135.03,331.5 V332.5 M137.81,331.5 V332.5 M139.97,331.5 V332.5 M141.73,331.5 V332.5 M143.22,331.5 V332.5 M144.52,331.5 V332.5 M145.66,331.5 V332.5 M146.68,329.7 V333.3 M146.68,190.2 V192.0 M153.38,331.5 V332.5 M157.30,331.5 V332.5 M160.09,331.5 V332.5 M162.24,331.5 V332.5 M164.01,331.5 V332.5 M165.50,331.5 V332.5 M166.79,331.5 V332.5 M167.93,331.5 V332.5 M168.95,329.7 V333.3 M168.95,190.2 V192.0 M175.66,331.5 V332.5 M179.58,331.5 V332.5 M182.36,331.5 V332.5 M184.52,331.5 V332.5 M186.28,331.5 V332.5 M187.77,331.5 V332.5 M189.07,331.5 V332.5 M190.21,331.5 V332.5 M191.22,329.7 V333.3 M191.22,190.2 V192.0 M197.93,331.5 V332.5 M201.85,331.5 V332.5 M204.64,331.5 V332.5 M206.79,331.5 V332.5 M208.56,331.5 V332.5 M210.05,331.5 V332.5 M211.34,331.5 V332.5 M212.48,331.5 V332.5 M213.50,329.7 V333.3 M213.50,190.2 V192.0 M33.5,190.20 H37.099999999999994 M33.5,207.86 H37.099999999999994 M33.5,225.52 H37.099999999999994 M33.5,243.19 H37.099999999999994 M33.5,260.85 H37.099999999999994 M33.5,278.51 H37.099999999999994 M33.5,296.18 H37.099999999999994 M33.5,313.84 H37.099999999999994 M33.5,331.50 H37.099999999999994" stroke="#000" stroke-width="0.7" fill="none"/>
<text class="k" x="31.10" y="193.17" font-size="7.5" text-anchor="end">1.00</text>
<text class="k" x="31.10" y="210.84" font-size="7.5" text-anchor="end">0.75</text>
<text class="k" x="31.10" y="228.50" font-size="7.5" text-anchor="end">0.50</text>
<text class="k" x="31.10" y="246.16" font-size="7.5" text-anchor="end">0.25</text>
<text class="k" x="31.10" y="263.83" font-size="7.5" text-anchor="end">0.00</text>
<text class="k" x="31.10" y="281.49" font-size="7.5" text-anchor="end"><tspan dy="0.5">−</tspan><tspan dy="-0.5">0.25</tspan></text>
<text class="k" x="31.10" y="299.15" font-size="7.5" text-anchor="end"><tspan dy="0.5">−</tspan><tspan dy="-0.5">0.50</tspan></text>
<text class="k" x="31.10" y="316.81" font-size="7.5" text-anchor="end"><tspan dy="0.5">−</tspan><tspan dy="-0.5">0.75</tspan></text>
<text class="k" x="31.10" y="334.48" font-size="7.5" text-anchor="end"><tspan dy="0.5">−</tspan><tspan dy="-0.5">1.00</tspan></text>
<text class="k" x="35.10" y="342.10" font-size="7.95" text-anchor="middle">10<tspan font-size="5.55" dy="-2.70">−37</tspan></text>
<text class="k" x="57.37" y="342.10" font-size="7.95" text-anchor="middle">10<tspan font-size="5.55" dy="-2.70">−36</tspan></text>
<text class="k" x="79.65" y="342.10" font-size="7.95" text-anchor="middle">10<tspan font-size="5.55" dy="-2.70">−35</tspan></text>
<text class="k" x="101.92" y="342.10" font-size="7.95" text-anchor="middle">10<tspan font-size="5.55" dy="-2.70">−34</tspan></text>
<text class="k" x="124.20" y="342.10" font-size="7.95" text-anchor="middle">10<tspan font-size="5.55" dy="-2.70">−33</tspan></text>
<text class="k" x="146.48" y="342.10" font-size="7.95" text-anchor="middle">10<tspan font-size="5.55" dy="-2.70">−32</tspan></text>
<text class="k" x="168.75" y="342.10" font-size="7.95" text-anchor="middle">10<tspan font-size="5.55" dy="-2.70">−31</tspan></text>
<text class="k" x="191.02" y="342.10" font-size="7.95" text-anchor="middle">10<tspan font-size="5.55" dy="-2.70">−30</tspan></text>
<text class="k" x="213.30" y="342.10" font-size="7.95" text-anchor="middle">10<tspan font-size="5.55" dy="-2.70">−29</tspan></text>
<text class="t" x="95.7" y="354.8" font-size="11.6"><tspan font-style="italic">ρ</tspan><tspan font-size="8.12" dy="2.32">6</tspan><tspan dy="-2.32" dx="0.93"> (GeV</tspan><tspan font-size="8.58" dy="-4.41">−2</tspan><tspan dy="4.41">)</tspan></text>
<text class="t" transform="translate(9.0,260.85) rotate(-90)" font-size="11.6" text-anchor="middle"><tspan font-style="italic">cos</tspan>(<tspan font-style="italic">θ</tspan><tspan font-size="8.12" dy="2.32">6</tspan><tspan dy="-2.32">)</tspan></text>
<rect x="107.3" y="251.1" width="46.90" height="17.50" rx="2.8" fill="#fff"/>
<text class="s" x="130.45" y="262.70" font-size="10.9" fill="#ff0000" text-anchor="middle" textLength="39.3" lengthAdjust="spacingAndGlyphs">Excluded</text>
<text class="s" x="38.0" y="200.00" font-size="12.1" fill="#0f8f0f" textLength="34" lengthAdjust="spacingAndGlyphs">Allowed</text>
</g>
<g id="p5">
<clipPath id="cp5"><rect x="267.3" y="190.3" width="178.50" height="141.00"/></clipPath>
<g clip-path="url(#cp5)">
<path d="M277.30,260.00 C277.32,257.83 277.53,256.00 277.70,254.00 C277.87,252.00 278.07,249.62 278.30,248.00 C278.53,246.38 278.67,246.30 279.10,244.30 C279.53,242.30 280.20,238.32 280.90,236.00 C281.60,233.68 282.32,232.03 283.30,230.40 C284.28,228.77 285.53,227.48 286.80,226.20 C288.07,224.92 289.40,223.68 290.90,222.70 C292.40,221.72 294.17,221.00 295.80,220.30 C297.43,219.60 299.33,219.05 300.70,218.50 C302.07,217.95 302.15,217.52 304.00,217.00 C305.85,216.48 309.07,215.93 311.80,215.40 C314.53,214.87 317.47,214.58 320.40,213.80 C323.33,213.02 326.43,211.80 329.40,210.70 C332.37,209.60 335.42,208.43 338.20,207.20 C340.98,205.97 343.80,204.47 346.10,203.30 C348.40,202.13 350.28,200.95 352.00,200.20 C353.72,199.45 354.57,199.22 356.40,198.80 C358.23,198.38 360.70,197.98 363.00,197.70 C365.30,197.42 367.78,197.23 370.20,197.10 C372.62,196.97 375.07,196.98 377.50,196.90 C379.93,196.82 382.37,196.68 384.80,196.60 C387.23,196.52 389.57,196.32 392.10,196.40 C394.63,196.48 397.52,196.72 400.00,197.10 C402.48,197.48 404.90,198.03 407.00,198.70 C409.10,199.37 410.97,200.12 412.60,201.10 C414.23,202.08 415.52,203.08 416.80,204.60 C418.08,206.12 419.27,208.12 420.30,210.20 C421.33,212.28 422.08,214.67 423.00,217.10 C423.92,219.53 424.87,222.00 425.80,224.80 C426.73,227.60 427.75,231.03 428.60,233.90 C429.45,236.77 430.23,239.35 430.90,242.00 C431.57,244.65 432.20,246.63 432.60,249.80 C433.00,252.97 433.25,257.52 433.30,261.00 C433.35,264.48 433.15,267.45 432.90,270.70 C432.65,273.95 432.32,277.78 431.80,280.50 C431.28,283.22 430.43,285.00 429.80,287.00 C429.17,289.00 428.60,290.32 428.00,292.50 C427.40,294.68 426.98,297.47 426.20,300.10 C425.42,302.73 424.42,305.78 423.30,308.30 C422.18,310.82 420.87,313.22 419.50,315.20 C418.13,317.18 416.67,318.95 415.10,320.20 C413.53,321.45 412.20,322.07 410.10,322.70 C408.00,323.33 405.02,323.70 402.50,324.00 C399.98,324.30 397.75,324.35 395.00,324.50 C392.25,324.65 388.82,324.88 386.00,324.90 C383.18,324.92 380.60,324.87 378.10,324.60 C375.60,324.33 373.23,323.62 371.00,323.30 C368.77,322.98 367.20,322.92 364.70,322.70 C362.20,322.48 358.50,322.45 356.00,322.00 C353.50,321.55 351.53,320.73 349.70,320.00 C347.87,319.27 346.75,318.63 345.00,317.60 C343.25,316.57 341.55,315.03 339.20,313.80 C336.85,312.57 333.68,311.27 330.90,310.20 C328.12,309.13 325.30,308.20 322.50,307.40 C319.70,306.60 316.90,305.97 314.10,305.40 C311.30,304.83 308.38,304.53 305.70,304.00 C303.02,303.47 300.32,302.97 298.00,302.20 C295.68,301.43 293.65,300.55 291.80,299.40 C289.95,298.25 288.42,297.03 286.90,295.30 C285.38,293.57 283.87,291.22 282.70,289.00 C281.53,286.78 280.60,284.33 279.90,282.00 C279.20,279.67 278.88,277.50 278.50,275.00 C278.12,272.50 277.80,269.50 277.60,267.00 C277.40,264.50 277.28,262.17 277.30,260.00 Z" fill="#ff0000" stroke="#000" stroke-width="0.9" stroke-linejoin="round"/>
<path d="M285.40,260.00 C285.38,258.33 285.40,255.83 285.50,254.00 C285.60,252.17 285.78,250.38 286.00,249.00 C286.22,247.62 286.32,247.42 286.80,245.70 C287.28,243.98 288.10,240.55 288.90,238.70 C289.70,236.85 290.57,235.63 291.60,234.60 C292.63,233.57 293.93,233.32 295.10,232.50 C296.27,231.68 297.43,230.63 298.60,229.70 C299.77,228.77 301.20,227.68 302.10,226.90 C303.00,226.12 302.38,225.67 304.00,225.00 C305.62,224.33 309.07,223.63 311.80,222.90 C314.53,222.17 317.47,221.42 320.40,220.60 C323.33,219.78 326.43,219.00 329.40,218.00 C332.37,217.00 335.42,215.98 338.20,214.60 C340.98,213.22 343.80,211.18 346.10,209.70 C348.40,208.22 350.28,206.65 352.00,205.70 C353.72,204.75 354.57,204.67 356.40,204.00 C358.23,203.33 360.93,202.33 363.00,201.70 C365.07,201.07 367.10,200.45 368.80,200.20 C370.50,199.95 371.98,200.05 373.20,200.20 C374.42,200.35 375.13,201.10 376.10,201.10 C377.07,201.10 377.90,200.53 379.00,200.20 C380.10,199.87 381.12,199.25 382.70,199.10 C384.28,198.95 386.32,199.13 388.50,199.30 C390.68,199.47 393.88,199.80 395.80,200.10 C397.72,200.40 398.13,200.70 400.00,201.10 C401.87,201.50 405.13,201.92 407.00,202.50 C408.87,203.08 409.92,203.67 411.20,204.60 C412.48,205.53 413.58,206.60 414.70,208.10 C415.82,209.60 416.90,211.63 417.90,213.60 C418.90,215.57 419.85,217.68 420.70,219.90 C421.55,222.12 422.28,224.33 423.00,226.90 C423.72,229.47 424.45,232.78 425.00,235.30 C425.55,237.82 425.98,239.58 426.30,242.00 C426.62,244.42 426.73,246.63 426.90,249.80 C427.07,252.97 427.28,257.52 427.30,261.00 C427.32,264.48 427.20,267.45 427.00,270.70 C426.80,273.95 426.35,277.78 426.10,280.50 C425.85,283.22 425.65,285.00 425.50,287.00 C425.35,289.00 425.57,290.32 425.20,292.50 C424.83,294.68 424.03,297.68 423.30,300.10 C422.57,302.52 421.85,304.80 420.80,307.00 C419.75,309.20 418.37,311.62 417.00,313.30 C415.63,314.98 414.17,316.05 412.60,317.10 C411.03,318.15 409.48,319.02 407.60,319.60 C405.72,320.18 403.40,320.32 401.30,320.60 C399.20,320.88 397.42,321.03 395.00,321.30 C392.58,321.57 389.22,322.15 386.80,322.20 C384.38,322.25 382.60,322.00 380.50,321.60 C378.40,321.20 376.05,320.20 374.20,319.80 C372.35,319.40 371.12,319.17 369.40,319.20 C367.68,319.23 366.13,320.33 363.90,320.00 C361.67,319.67 358.37,318.25 356.00,317.20 C353.63,316.15 351.50,314.73 349.70,313.70 C347.90,312.67 347.40,312.22 345.20,311.00 C343.00,309.78 339.12,307.75 336.50,306.40 C333.88,305.05 331.83,303.90 329.50,302.90 C327.17,301.90 324.83,301.05 322.50,300.40 C320.17,299.75 317.83,299.40 315.50,299.00 C313.17,298.60 310.60,298.62 308.50,298.00 C306.40,297.38 304.65,296.45 302.90,295.30 C301.15,294.15 299.62,292.38 298.00,291.10 C296.38,289.82 294.47,289.12 293.20,287.60 C291.93,286.08 291.22,284.10 290.40,282.00 C289.58,279.90 288.95,277.33 288.30,275.00 C287.65,272.67 286.95,269.83 286.50,268.00 C286.05,266.17 285.78,265.33 285.60,264.00 C285.42,262.67 285.42,261.67 285.40,260.00 Z" fill="#0000ff" stroke="#000" stroke-width="0.9" stroke-linejoin="round"/>
<path d="M285.15,190.3 V331.3 M303.00,190.3 V331.3 M320.85,190.3 V331.3 M338.70,190.3 V331.3 M356.55,190.3 V331.3 M374.40,190.3 V331.3 M392.25,190.3 V331.3 M410.10,190.3 V331.3 M427.95,190.3 V331.3 M267.3,207.93 H445.8 M267.3,225.55 H445.8 M267.3,243.18 H445.8 M267.3,260.80 H445.8 M267.3,278.43 H445.8 M267.3,296.05 H445.8 M267.3,313.68 H445.8" stroke="#a0a0a0" stroke-width="0.8" stroke-dasharray="1.4,1.3" fill="none" opacity="0.8"/>
</g>
<rect x="267.3" y="190.3" width="178.50" height="141.00" fill="none" stroke="#444" stroke-width="1"/>
<path d="M267.30,329.5 V333.1 M267.30,190.3 V192.10000000000002 M272.67,331.3 V332.3 M275.82,331.3 V332.3 M278.05,331.3 V332.3 M279.78,331.3 V332.3 M281.19,331.3 V332.3 M282.39,331.3 V332.3 M283.42,331.3 V332.3 M284.33,331.3 V332.3 M285.15,329.5 V333.1 M285.15,190.3 V192.10000000000002 M290.52,331.3 V332.3 M293.67,331.3 V332.3 M295.90,331.3 V332.3 M297.63,331.3 V332.3 M299.04,331.3 V332.3 M300.24,331.3 V332.3 M301.27,331.3 V332.3 M302.18,331.3 V332.3 M303.00,329.5 V333.1 M303.00,190.3 V192.10000000000002 M308.37,331.3 V332.3 M311.52,331.3 V332.3 M313.75,331.3 V332.3 M315.48,331.3 V332.3 M316.89,331.3 V332.3 M318.09,331.3 V332.3 M319.12,331.3 V332.3 M320.03,331.3 V332.3 M320.85,329.5 V333.1 M320.85,190.3 V192.10000000000002 M326.22,331.3 V332.3 M329.37,331.3 V332.3 M331.60,331.3 V332.3 M333.33,331.3 V332.3 M334.74,331.3 V332.3 M335.94,331.3 V332.3 M336.97,331.3 V332.3 M337.88,331.3 V332.3 M338.70,329.5 V333.1 M338.70,190.3 V192.10000000000002 M344.07,331.3 V332.3 M347.22,331.3 V332.3 M349.45,331.3 V332.3 M351.18,331.3 V332.3 M352.59,331.3 V332.3 M353.79,331.3 V332.3 M354.82,331.3 V332.3 M355.73,331.3 V332.3 M356.55,329.5 V333.1 M356.55,190.3 V192.10000000000002 M361.92,331.3 V332.3 M365.07,331.3 V332.3 M367.30,331.3 V332.3 M369.03,331.3 V332.3 M370.44,331.3 V332.3 M371.64,331.3 V332.3 M372.67,331.3 V332.3 M373.58,331.3 V332.3 M374.40,329.5 V333.1 M374.40,190.3 V192.10000000000002 M379.77,331.3 V332.3 M382.92,331.3 V332.3 M385.15,331.3 V332.3 M386.88,331.3 V332.3 M388.29,331.3 V332.3 M389.49,331.3 V332.3 M390.52,331.3 V332.3 M391.43,331.3 V332.3 M392.25,329.5 V333.1 M392.25,190.3 V192.10000000000002 M397.62,331.3 V332.3 M400.77,331.3 V332.3 M403.00,331.3 V332.3 M404.73,331.3 V332.3 M406.14,331.3 V332.3 M407.34,331.3 V332.3 M408.37,331.3 V332.3 M409.28,331.3 V332.3 M410.10,329.5 V333.1 M410.10,190.3 V192.10000000000002 M415.47,331.3 V332.3 M418.62,331.3 V332.3 M420.85,331.3 V332.3 M422.58,331.3 V332.3 M423.99,331.3 V332.3 M425.19,331.3 V332.3 M426.22,331.3 V332.3 M427.13,331.3 V332.3 M427.95,329.5 V333.1 M427.95,190.3 V192.10000000000002 M433.32,331.3 V332.3 M436.47,331.3 V332.3 M438.70,331.3 V332.3 M440.43,331.3 V332.3 M441.84,331.3 V332.3 M443.04,331.3 V332.3 M444.07,331.3 V332.3 M444.98,331.3 V332.3 M445.80,329.5 V333.1 M445.80,190.3 V192.10000000000002 M265.5,190.30 H269.1 M265.5,207.93 H269.1 M265.5,225.55 H269.1 M265.5,243.18 H269.1 M265.5,260.80 H269.1 M265.5,278.43 H269.1 M265.5,296.05 H269.1 M265.5,313.68 H269.1 M265.5,331.30 H269.1" stroke="#000" stroke-width="0.7" fill="none"/>
<text class="k" x="263.10" y="193.28" font-size="7.5" text-anchor="end">1.00</text>
<text class="k" x="263.10" y="210.90" font-size="7.5" text-anchor="end">0.75</text>
<text class="k" x="263.10" y="228.53" font-size="7.5" text-anchor="end">0.50</text>
<text class="k" x="263.10" y="246.15" font-size="7.5" text-anchor="end">0.25</text>
<text class="k" x="263.10" y="263.78" font-size="7.5" text-anchor="end">0.00</text>
<text class="k" x="263.10" y="281.40" font-size="7.5" text-anchor="end"><tspan dy="0.5">−</tspan><tspan dy="-0.5">0.25</tspan></text>
<text class="k" x="263.10" y="299.03" font-size="7.5" text-anchor="end"><tspan dy="0.5">−</tspan><tspan dy="-0.5">0.50</tspan></text>
<text class="k" x="263.10" y="316.65" font-size="7.5" text-anchor="end"><tspan dy="0.5">−</tspan><tspan dy="-0.5">0.75</tspan></text>
<text class="k" x="263.10" y="334.28" font-size="7.5" text-anchor="end"><tspan dy="0.5">−</tspan><tspan dy="-0.5">1.00</tspan></text>
<text class="k" x="267.10" y="341.90" font-size="7.95" text-anchor="middle">10<tspan font-size="5.55" dy="-2.70">−41</tspan></text>
<text class="k" x="302.80" y="341.90" font-size="7.95" text-anchor="middle">10<tspan font-size="5.55" dy="-2.70">−39</tspan></text>
<text class="k" x="338.50" y="341.90" font-size="7.95" text-anchor="middle">10<tspan font-size="5.55" dy="-2.70">−37</tspan></text>
<text class="k" x="374.20" y="341.90" font-size="7.95" text-anchor="middle">10<tspan font-size="5.55" dy="-2.70">−35</tspan></text>
<text class="k" x="409.90" y="341.90" font-size="7.95" text-anchor="middle">10<tspan font-size="5.55" dy="-2.70">−33</tspan></text>
<text class="k" x="445.60" y="341.90" font-size="7.95" text-anchor="middle">10<tspan font-size="5.55" dy="-2.70">−31</tspan></text>
<text class="t" x="327.8" y="354.8" font-size="11.4"><tspan font-style="italic">ρ</tspan><tspan font-size="7.98" dy="2.28">7</tspan><tspan dy="-2.28" dx="0.91"> (GeV</tspan><tspan font-size="8.44" dy="-4.33">−3</tspan><tspan dy="4.33">)</tspan></text>
<text class="t" transform="translate(240.6,260.80) rotate(-90)" font-size="11.3" text-anchor="middle"><tspan font-style="italic">cos</tspan>(<tspan font-style="italic">θ</tspan><tspan font-size="7.91" dy="2.26">7</tspan><tspan dy="-2.26">)</tspan></text>
<rect x="339.3" y="251.1" width="46.70" height="17.50" rx="2.8" fill="#fff"/>
<text class="s" x="362.35" y="262.70" font-size="10.9" fill="#ff0000" text-anchor="middle" textLength="39.1" lengthAdjust="spacingAndGlyphs">Excluded</text>
<text class="s" x="270.0" y="200.00" font-size="12.1" fill="#0f8f0f" textLength="34" lengthAdjust="spacingAndGlyphs">Allowed</text>
</g>
<g id="p6">
<clipPath id="cp6"><rect x="500.0" y="185.4" width="182.40" height="145.30"/></clipPath>
<g clip-path="url(#cp6)">
<path d="M502.40,258.00 C502.38,256.00 502.62,254.08 502.80,252.00 C502.98,249.92 503.15,247.87 503.50,245.50 C503.85,243.13 504.20,240.02 504.90,237.80 C505.60,235.58 506.65,233.95 507.70,232.20 C508.75,230.45 509.92,228.92 511.20,227.30 C512.48,225.68 513.88,223.88 515.40,222.50 C516.92,221.12 518.45,220.00 520.30,219.00 C522.15,218.00 524.30,217.20 526.50,216.50 C528.70,215.80 531.58,215.35 533.50,214.80 C535.42,214.25 536.32,213.60 538.00,213.20 C539.68,212.80 541.73,212.50 543.60,212.40 C545.47,212.30 547.33,212.72 549.20,212.60 C551.07,212.48 552.93,212.17 554.80,211.70 C556.67,211.23 558.53,210.43 560.40,209.80 C562.27,209.17 564.13,208.58 566.00,207.90 C567.87,207.22 569.75,206.55 571.60,205.70 C573.45,204.85 575.25,203.88 577.10,202.80 C578.95,201.72 581.22,200.15 582.70,199.20 C584.18,198.25 584.72,197.58 586.00,197.10 C587.28,196.62 588.82,196.32 590.40,196.30 C591.98,196.28 593.80,197.05 595.50,197.00 C597.20,196.95 598.78,196.47 600.60,196.00 C602.42,195.53 604.45,194.80 606.40,194.20 C608.35,193.60 610.35,192.88 612.30,192.40 C614.25,191.92 616.15,191.42 618.10,191.30 C620.05,191.18 622.05,191.48 624.00,191.70 C625.95,191.92 627.80,192.50 629.80,192.60 C631.80,192.70 633.90,192.23 636.00,192.30 C638.10,192.37 640.17,192.77 642.40,193.00 C644.63,193.23 647.30,193.35 649.40,193.70 C651.50,194.05 653.27,194.28 655.00,195.10 C656.73,195.92 658.30,197.32 659.80,198.60 C661.30,199.88 662.60,201.18 664.00,202.80 C665.40,204.42 666.92,206.33 668.20,208.30 C669.48,210.27 670.65,212.38 671.70,214.60 C672.75,216.82 673.62,219.15 674.50,221.60 C675.38,224.05 676.30,226.90 677.00,229.30 C677.70,231.70 678.18,233.72 678.70,236.00 C679.22,238.28 679.68,240.33 680.10,243.00 C680.52,245.67 680.97,249.50 681.20,252.00 C681.43,254.50 681.50,256.00 681.50,258.00 C681.50,260.00 681.43,261.32 681.20,264.00 C680.97,266.68 680.72,270.60 680.10,274.10 C679.48,277.60 678.30,281.98 677.50,285.00 C676.70,288.02 676.12,289.80 675.30,292.20 C674.48,294.60 673.65,296.80 672.60,299.40 C671.55,302.00 670.30,305.20 669.00,307.80 C667.70,310.40 666.30,313.00 664.80,315.00 C663.30,317.00 661.80,318.60 660.00,319.80 C658.20,321.00 656.40,321.63 654.00,322.20 C651.60,322.77 647.93,323.05 645.60,323.20 C643.27,323.35 642.13,323.08 640.00,323.10 C637.87,323.12 635.42,323.23 632.80,323.30 C630.18,323.37 626.83,323.55 624.30,323.50 C621.77,323.45 619.57,323.18 617.60,323.00 C615.63,322.82 614.20,322.50 612.50,322.40 C610.80,322.30 608.95,322.75 607.40,322.40 C605.85,322.05 604.53,320.97 603.20,320.30 C601.87,319.63 600.82,318.40 599.40,318.40 C597.98,318.40 596.18,320.05 594.70,320.30 C593.22,320.55 591.92,320.25 590.50,319.90 C589.08,319.55 587.62,318.83 586.20,318.20 C584.78,317.57 583.77,317.07 582.00,316.10 C580.23,315.13 577.53,313.45 575.60,312.40 C573.67,311.35 572.13,310.62 570.40,309.80 C568.67,308.98 566.92,308.18 565.20,307.50 C563.48,306.82 561.82,306.27 560.10,305.70 C558.38,305.13 556.63,304.53 554.90,304.10 C553.17,303.67 551.43,303.22 549.70,303.10 C547.97,302.98 546.40,303.48 544.50,303.40 C542.60,303.32 540.18,302.95 538.30,302.60 C536.42,302.25 535.17,301.70 533.20,301.30 C531.23,300.90 528.77,300.93 526.50,300.20 C524.23,299.47 521.55,298.15 519.60,296.90 C517.65,295.65 516.18,294.33 514.80,292.70 C513.42,291.07 512.35,288.85 511.30,287.10 C510.25,285.35 509.43,283.83 508.50,282.20 C507.57,280.57 506.52,279.27 505.70,277.30 C504.88,275.33 504.07,272.62 503.60,270.40 C503.13,268.18 503.10,266.07 502.90,264.00 C502.70,261.93 502.42,260.00 502.40,258.00 Z" fill="#ff0000" stroke="#000" stroke-width="0.9" stroke-linejoin="round"/>
<path d="M513.60,258.00 C513.55,256.00 514.02,254.08 514.20,252.00 C514.38,249.92 514.27,247.87 514.70,245.50 C515.13,243.13 515.98,239.90 516.80,237.80 C517.62,235.70 518.45,234.42 519.60,232.90 C520.75,231.38 522.08,229.85 523.70,228.70 C525.32,227.55 527.43,226.80 529.30,226.00 C531.17,225.20 533.45,224.45 534.90,223.90 C536.35,223.35 536.55,223.13 538.00,222.70 C539.45,222.27 541.73,221.68 543.60,221.30 C545.47,220.92 547.33,220.50 549.20,220.40 C551.07,220.30 552.93,221.03 554.80,220.70 C556.67,220.37 558.53,219.03 560.40,218.40 C562.27,217.77 564.13,217.53 566.00,216.90 C567.87,216.27 569.75,215.50 571.60,214.60 C573.45,213.70 575.25,212.62 577.10,211.50 C578.95,210.38 581.22,208.90 582.70,207.90 C584.18,206.90 584.72,206.38 586.00,205.50 C587.28,204.62 588.82,203.50 590.40,202.60 C591.98,201.70 593.80,200.83 595.50,200.10 C597.20,199.37 598.78,198.63 600.60,198.20 C602.42,197.77 604.45,197.62 606.40,197.50 C608.35,197.38 610.35,197.62 612.30,197.50 C614.25,197.38 616.15,197.07 618.10,196.80 C620.05,196.53 622.05,196.07 624.00,195.90 C625.95,195.73 627.97,195.75 629.80,195.80 C631.63,195.85 632.90,196.02 635.00,196.20 C637.10,196.38 640.23,196.55 642.40,196.90 C644.57,197.25 646.13,197.55 648.00,198.30 C649.87,199.05 651.87,200.18 653.60,201.40 C655.33,202.62 656.90,204.10 658.40,205.60 C659.90,207.10 661.32,208.67 662.60,210.40 C663.88,212.13 665.00,214.02 666.10,216.00 C667.20,217.98 668.22,220.08 669.20,222.30 C670.18,224.52 671.23,227.02 672.00,229.30 C672.77,231.58 673.30,233.72 673.80,236.00 C674.30,238.28 674.73,240.33 675.00,243.00 C675.27,245.67 675.32,249.50 675.40,252.00 C675.48,254.50 675.52,256.00 675.50,258.00 C675.48,260.00 675.45,261.32 675.30,264.00 C675.15,266.68 674.98,270.60 674.60,274.10 C674.22,277.60 673.63,281.98 673.00,285.00 C672.37,288.02 671.57,289.80 670.80,292.20 C670.03,294.60 669.40,296.90 668.40,299.40 C667.40,301.90 666.20,304.90 664.80,307.20 C663.40,309.50 661.60,311.70 660.00,313.20 C658.40,314.70 657.20,315.40 655.20,316.20 C653.20,317.00 650.47,317.50 648.00,318.00 C645.53,318.50 642.93,318.88 640.40,319.20 C637.87,319.52 635.20,319.83 632.80,319.90 C630.40,319.97 628.12,319.60 626.00,319.60 C623.88,319.60 621.78,319.98 620.10,319.90 C618.42,319.82 617.32,319.45 615.90,319.10 C614.48,318.75 613.02,317.95 611.60,317.80 C610.18,317.65 608.80,318.17 607.40,318.20 C606.00,318.23 604.62,318.22 603.20,318.00 C601.78,317.78 600.32,317.37 598.90,316.90 C597.48,316.43 596.10,315.83 594.70,315.20 C593.30,314.57 591.92,313.93 590.50,313.10 C589.08,312.27 587.62,311.12 586.20,310.20 C584.78,309.28 583.77,308.43 582.00,307.60 C580.23,306.77 577.53,306.03 575.60,305.20 C573.67,304.37 572.13,303.47 570.40,302.60 C568.67,301.73 566.92,300.78 565.20,300.00 C563.48,299.22 561.82,298.47 560.10,297.90 C558.38,297.33 556.63,297.00 554.90,296.60 C553.17,296.20 551.43,295.80 549.70,295.50 C547.97,295.20 546.40,295.13 544.50,294.80 C542.60,294.47 540.18,294.02 538.30,293.50 C536.42,292.98 534.67,292.37 533.20,291.70 C531.73,291.03 530.72,290.18 529.50,289.50 C528.28,288.82 527.32,288.70 525.90,287.60 C524.48,286.50 522.38,284.62 521.00,282.90 C519.62,281.18 518.52,279.38 517.60,277.30 C516.68,275.22 516.02,272.62 515.50,270.40 C514.98,268.18 514.82,266.07 514.50,264.00 C514.18,261.93 513.65,260.00 513.60,258.00 Z" fill="#0000ff" stroke="#000" stroke-width="0.9" stroke-linejoin="round"/>
<path d="M516.58,185.4 V330.7 M533.16,185.4 V330.7 M549.75,185.4 V330.7 M566.33,185.4 V330.7 M582.91,185.4 V330.7 M599.49,185.4 V330.7 M616.07,185.4 V330.7 M632.65,185.4 V330.7 M649.24,185.4 V330.7 M665.82,185.4 V330.7 M500.0,203.56 H682.4 M500.0,221.72 H682.4 M500.0,239.89 H682.4 M500.0,258.05 H682.4 M500.0,276.21 H682.4 M500.0,294.38 H682.4 M500.0,312.54 H682.4" stroke="#a0a0a0" stroke-width="0.8" stroke-dasharray="1.4,1.3" fill="none" opacity="0.8"/>
</g>
<rect x="500.0" y="185.4" width="182.40" height="145.30" fill="none" stroke="#444" stroke-width="1"/>
<path d="M500.0,185.9 V330.2" stroke="#d0d0d0" stroke-width="1.2" fill="none"/>
<path d="M498.2,203.56 H501.2 M498.2,221.72 H501.2 M498.2,239.89 H501.2 M498.2,258.05 H501.2 M498.2,276.21 H501.2 M498.2,294.38 H501.2 M498.2,312.54 H501.2 M498.2,330.70 H501.2" stroke="#999" stroke-width="0.8" fill="none"/>
<path d="M500.00,328.9 V332.5 M500.00,185.4 V187.20000000000002 M504.99,330.7 V331.7 M507.91,330.7 V331.7 M509.98,330.7 V331.7 M511.59,330.7 V331.7 M512.90,330.7 V331.7 M514.01,330.7 V331.7 M514.97,330.7 V331.7 M515.82,330.7 V331.7 M516.58,328.9 V332.5 M516.58,185.4 V187.20000000000002 M521.57,330.7 V331.7 M524.49,330.7 V331.7 M526.57,330.7 V331.7 M528.17,330.7 V331.7 M529.48,330.7 V331.7 M530.60,330.7 V331.7 M531.56,330.7 V331.7 M532.40,330.7 V331.7 M533.16,328.9 V332.5 M533.16,185.4 V187.20000000000002 M538.16,330.7 V331.7 M541.08,330.7 V331.7 M543.15,330.7 V331.7 M544.75,330.7 V331.7 M546.07,330.7 V331.7 M547.18,330.7 V331.7 M548.14,330.7 V331.7 M548.99,330.7 V331.7 M549.75,328.9 V332.5 M549.75,185.4 V187.20000000000002 M554.74,330.7 V331.7 M557.66,330.7 V331.7 M559.73,330.7 V331.7 M561.34,330.7 V331.7 M562.65,330.7 V331.7 M563.76,330.7 V331.7 M564.72,330.7 V331.7 M565.57,330.7 V331.7 M566.33,328.9 V332.5 M566.33,185.4 V187.20000000000002 M571.32,330.7 V331.7 M574.24,330.7 V331.7 M576.31,330.7 V331.7 M577.92,330.7 V331.7 M579.23,330.7 V331.7 M580.34,330.7 V331.7 M581.30,330.7 V331.7 M582.15,330.7 V331.7 M582.91,328.9 V332.5 M582.91,185.4 V187.20000000000002 M587.90,330.7 V331.7 M590.82,330.7 V331.7 M592.89,330.7 V331.7 M594.50,330.7 V331.7 M595.81,330.7 V331.7 M596.92,330.7 V331.7 M597.88,330.7 V331.7 M598.73,330.7 V331.7 M599.49,328.9 V332.5 M599.49,185.4 V187.20000000000002 M604.48,330.7 V331.7 M607.40,330.7 V331.7 M609.47,330.7 V331.7 M611.08,330.7 V331.7 M612.39,330.7 V331.7 M613.50,330.7 V331.7 M614.47,330.7 V331.7 M615.31,330.7 V331.7 M616.07,328.9 V332.5 M616.07,185.4 V187.20000000000002 M621.06,330.7 V331.7 M623.98,330.7 V331.7 M626.06,330.7 V331.7 M627.66,330.7 V331.7 M628.98,330.7 V331.7 M630.09,330.7 V331.7 M631.05,330.7 V331.7 M631.90,330.7 V331.7 M632.65,328.9 V332.5 M632.65,185.4 V187.20000000000002 M637.65,330.7 V331.7 M640.57,330.7 V331.7 M642.64,330.7 V331.7 M644.24,330.7 V331.7 M645.56,330.7 V331.7 M646.67,330.7 V331.7 M647.63,330.7 V331.7 M648.48,330.7 V331.7 M649.24,328.9 V332.5 M649.24,185.4 V187.20000000000002 M654.23,330.7 V331.7 M657.15,330.7 V331.7 M659.22,330.7 V331.7 M660.83,330.7 V331.7 M662.14,330.7 V331.7 M663.25,330.7 V331.7 M664.21,330.7 V331.7 M665.06,330.7 V331.7 M665.82,328.9 V332.5 M665.82,185.4 V187.20000000000002 M670.81,330.7 V331.7 M673.73,330.7 V331.7 M675.80,330.7 V331.7 M677.41,330.7 V331.7 M678.72,330.7 V331.7 M679.83,330.7 V331.7 M680.79,330.7 V331.7 M681.64,330.7 V331.7 M682.40,328.9 V332.5 M682.40,185.4 V187.20000000000002 M498.2,185.40 H501.8" stroke="#000" stroke-width="0.7" fill="none"/>
<text class="k" x="495.80" y="188.38" font-size="7.5" text-anchor="end">1.00</text>
<text class="k" x="495.80" y="206.54" font-size="7.5" text-anchor="end">0.75</text>
<text class="k" x="495.80" y="224.70" font-size="7.5" text-anchor="end">0.50</text>
<text class="k" x="495.80" y="242.86" font-size="7.5" text-anchor="end">0.25</text>
<text class="k" x="495.80" y="261.03" font-size="7.5" text-anchor="end">0.00</text>
<text class="k" x="495.80" y="279.19" font-size="7.5" text-anchor="end"><tspan dy="0.5">−</tspan><tspan dy="-0.5">0.25</tspan></text>
<text class="k" x="495.80" y="297.35" font-size="7.5" text-anchor="end"><tspan dy="0.5">−</tspan><tspan dy="-0.5">0.50</tspan></text>
<text class="k" x="495.80" y="315.51" font-size="7.5" text-anchor="end"><tspan dy="0.5">−</tspan><tspan dy="-0.5">0.75</tspan></text>
<text class="k" x="495.80" y="333.68" font-size="7.5" text-anchor="end"><tspan dy="0.5">−</tspan><tspan dy="-0.5">1.00</tspan></text>
<text class="k" x="499.80" y="341.30" font-size="7.95" text-anchor="middle">10<tspan font-size="5.55" dy="-2.70">−45</tspan></text>
<text class="k" x="532.96" y="341.30" font-size="7.95" text-anchor="middle">10<tspan font-size="5.55" dy="-2.70">−43</tspan></text>
<text class="k" x="566.13" y="341.30" font-size="7.95" text-anchor="middle">10<tspan font-size="5.55" dy="-2.70">−41</tspan></text>
<text class="k" x="599.29" y="341.30" font-size="7.95" text-anchor="middle">10<tspan font-size="5.55" dy="-2.70">−39</tspan></text>
<text class="k" x="632.45" y="341.30" font-size="7.95" text-anchor="middle">10<tspan font-size="5.55" dy="-2.70">−37</tspan></text>
<text class="k" x="665.62" y="341.30" font-size="7.95" text-anchor="middle">10<tspan font-size="5.55" dy="-2.70">−35</tspan></text>
<text class="t" x="561.0" y="354.8" font-size="11.7"><tspan font-style="italic">ρ</tspan><tspan font-size="8.19" dy="2.34">8</tspan><tspan dy="-2.34" dx="0.94"> (GeV</tspan><tspan font-size="8.66" dy="-4.45">−4</tspan><tspan dy="4.45">)</tspan></text>
<text class="t" transform="translate(472.2,258.05) rotate(-90)" font-size="11.6" text-anchor="middle"><tspan font-style="italic">cos</tspan>(<tspan font-style="italic">θ</tspan><tspan font-size="8.12" dy="2.32">8</tspan><tspan dy="-2.32">)</tspan></text>
<rect x="573.9" y="248.4" width="47.60" height="17.50" rx="2.8" fill="#fff"/>
<text class="s" x="597.40" y="260.00" font-size="10.9" fill="#ff0000" text-anchor="middle" textLength="40.0" lengthAdjust="spacingAndGlyphs">Excluded</text>
<text class="s" x="502.3" y="197.20" font-size="12.1" fill="#0f8f0f" textLength="34" lengthAdjust="spacingAndGlyphs">Allowed</text>
</g>
</svg></body></html>
